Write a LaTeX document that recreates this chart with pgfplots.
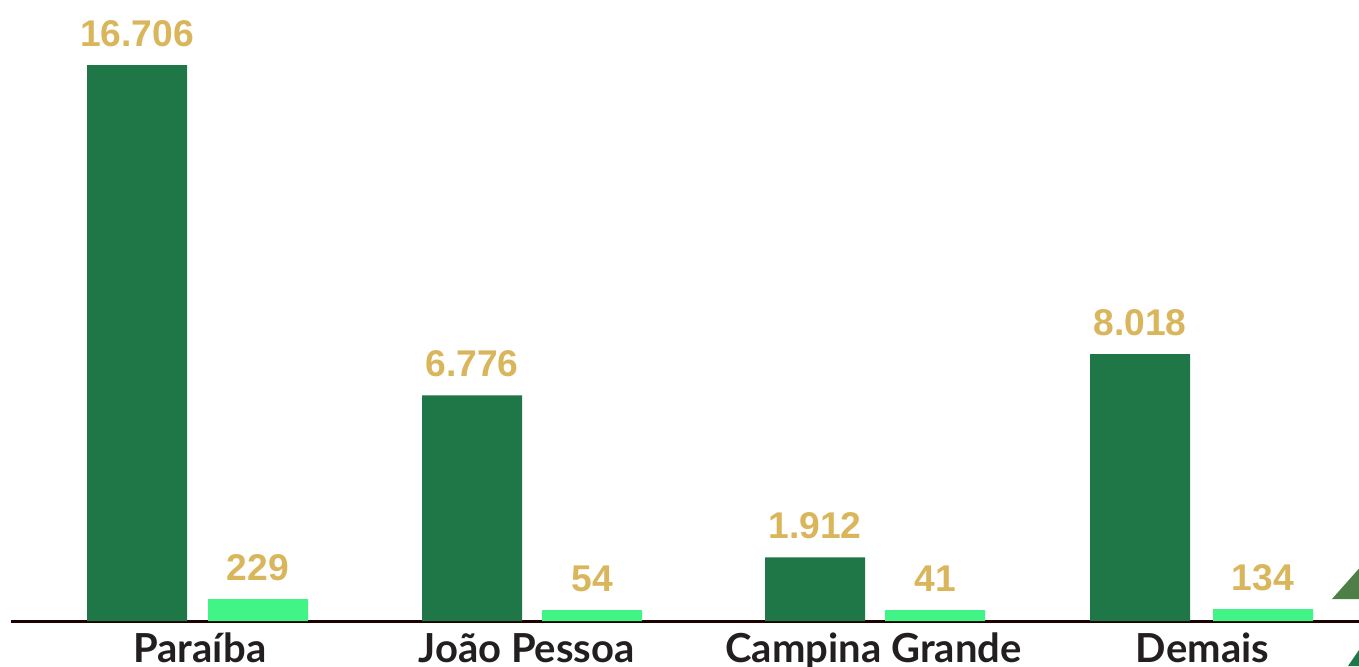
\documentclass[border=0pt]{standalone}
\usepackage{pgfplots}
\pgfplotsset{compat=1.18}
\usepackage{fontspec}
\setmainfont{Lato}
\newfontfamily\numfont{Liberation Sans}
\definecolor{darkg}{HTML}{1F7747}
\definecolor{lightg}{HTML}{40F586}
\definecolor{gold}{HTML}{D9B55C}
\definecolor{axisc}{HTML}{1E0202}
\definecolor{labc}{HTML}{231F20}
\definecolor{tri1}{HTML}{4E7F46}
\begin{document}
\begin{tikzpicture}
\begin{axis}[
  at={(0,0)}, anchor=south west,
  scale only axis, width=674pt, height=310.5pt,
  xmin=11, xmax=1359, ymin=0, ymax=18659,
  clip=false,
  hide y axis,
  axis x line=bottom,
  x axis line style={-, line width=1.5pt, draw=axisc},
  xtick={200,526.5,873.5,1202.5},
  xticklabels={Paraíba,João Pessoa,Campina Grande,Demais},
  major tick length=0pt,
  xticklabel style={anchor=base, yshift=-20.5pt, inner sep=0pt,
    font=\bfseries\fontsize{20}{20}\selectfont, text=labc},
  ybar, bar width=100,
  every node near coord/.append style={anchor=south, inner sep=0pt, yshift=9pt,
    font=\numfont\bfseries\fontsize{18.6}{18.6}\selectfont, text=gold},
]
\addplot[ybar, bar shift=0, fill=darkg, draw=none,
  nodes near coords, point meta=explicit symbolic]
  coordinates {(137,16706)[16.706] (472,6776)[6.776] (815,1912)[1.912] (1140,8018)[8.018]};
\addplot[ybar, bar shift=0, fill=lightg, draw=none,
  nodes near coords, point meta=explicit symbolic]
  coordinates {(258,661)[229] (592,330)[54] (935,330)[41] (1263,360)[134]};
\end{axis}
\pgfresetboundingbox
\useasboundingbox (-5.5pt,-22.5pt) rectangle (674pt,310.5pt);
\fill[tri1] (660.5pt,11pt) -- (680pt,11pt) -- (680pt,33pt) -- cycle;
\fill[darkg] (668.5pt,-22.5pt) -- (674pt,-14.5pt) -- (680pt,-14.5pt) -- (680pt,-22.5pt) -- cycle;
\end{tikzpicture}
\end{document}
